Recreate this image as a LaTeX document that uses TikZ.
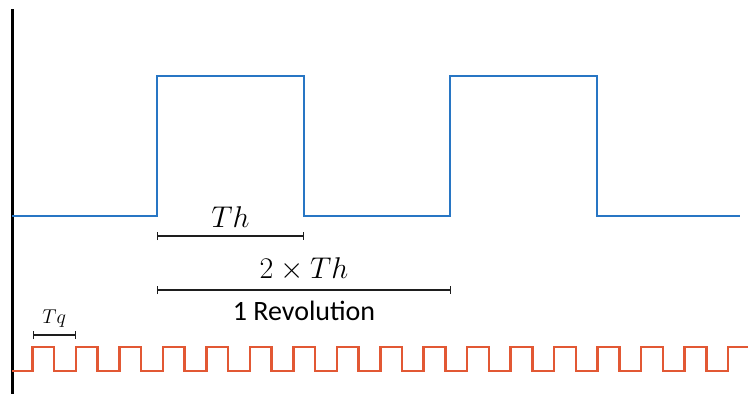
\RequirePackage{fix-cm}
\documentclass[tikz,border=0pt]{standalone}
\usepackage{fontspec}
\newfontfamily\labelfont{Carlito}
\usetikzlibrary{arrows.meta,positioning}
\definecolor{hallblue}{RGB}{40,118,196}
\definecolor{quadorange}{RGB}{226,88,52}
\definecolor{dimgray}{RGB}{30,30,30}

\begin{document}
\begin{tikzpicture}[x=1pt, y=-1pt,
    wave/.style={line width=2.5pt},
    dimline/.style={draw=dimgray, line width=1.4pt, {Bar[width=8pt]}-{Bar[width=8pt]}},
    mathlabel/.style={font=\fontsize{30}{32}\selectfont, inner sep=1pt},
    smalllabel/.style={font=\fontsize{20}{22}\selectfont, inner sep=1pt},
    textlabel/.style={font=\labelfont\fontsize{28}{30}\selectfont, inner sep=0pt}
  ]
    \useasboundingbox (0,0) rectangle (748,394);
    % axis
    \draw[line width=3pt] (12,9) -- (12,394);
    % hall signal
    \draw[wave, hallblue] (12,216) -- (157,216) -- (157,76) -- (304,76) -- (304,216)
      -- (450,216) -- (450,76) -- (597,76) -- (597,216) -- (740,216);
    % quadrature pulses
    \draw[wave, quadorange] (12,371)
      foreach \k in {0,...,15} { -- ({32.5+43.47*\k},371) -- ++(0,-24) -- ++(21.7,0) -- ++(0,24) }
      -- (728,371) -- (728,347) -- (748,347);
    % periods
    \coordinate (th-l) at (157,236);
    \coordinate (th-r) at (304,236);
    \coordinate (rev-l) at (157,290);
    \coordinate (rev-r) at (451,290);
    \coordinate (tq-l) at (32.5,335);
    \coordinate (tq-r) at (76,335);
    \draw[dimline] (th-l) -- (th-r) node[midway, above=7pt, mathlabel] (th) {$Th$};
    \draw[dimline] (rev-l) -- (rev-r)
      node[midway, above=7pt, mathlabel] (twoth) {$2\times Th$}
      node[midway, below=10pt, textlabel] (rev) {1 Revolution};
    \draw[dimline] (tq-l) -- (tq-r) node[midway, above=6pt, smalllabel] (tq) {$Tq$};
  \end{tikzpicture}
\end{document}
